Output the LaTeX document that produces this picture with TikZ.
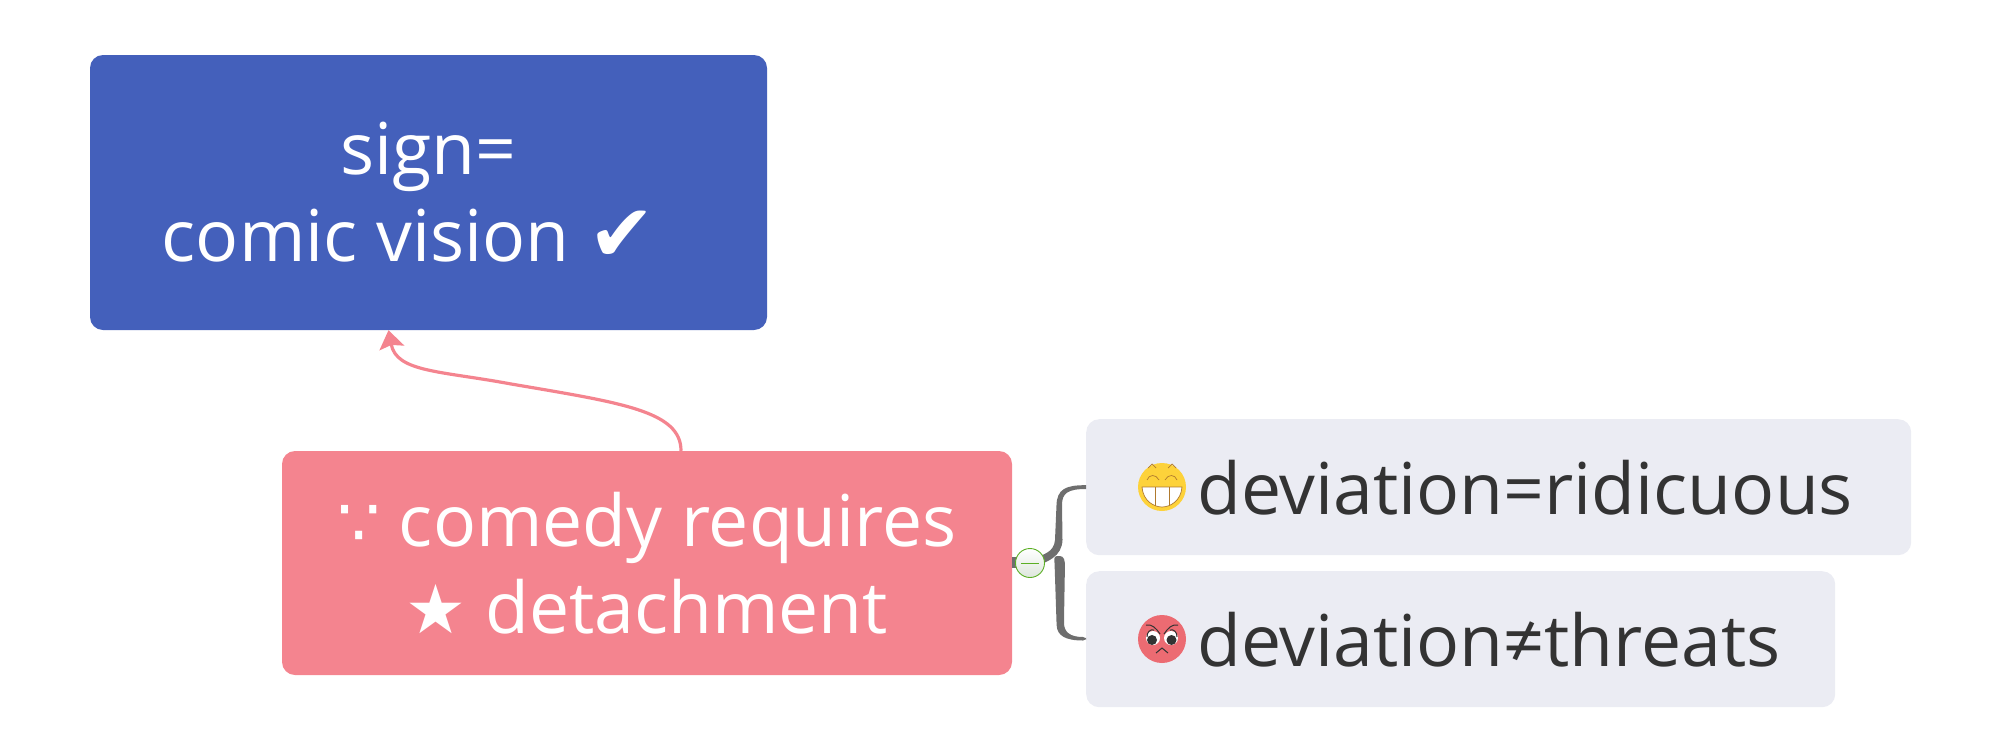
\documentclass[tikz,border=0pt]{standalone}
\usepackage{fontspec}
\setmainfont{Open Sans}
\newfontfamily\symf{DejaVu Sans}
\usetikzlibrary{arrows.meta,calc}
\definecolor{bluebox}{HTML}{4460BB}
\definecolor{pinkbox}{HTML}{F4848F}
\definecolor{greybox}{HTML}{EBECF3}
\definecolor{linkgrey}{HTML}{6E6E6E}
\definecolor{inkdark}{HTML}{333333}
\definecolor{facey}{HTML}{FDD23A}
\definecolor{facer}{HTML}{EC6B72}
\definecolor{toothl}{HTML}{B07A2E}
\definecolor{togg}{HTML}{5BAF24}
\definecolor{toggb}{HTML}{DDE6DC}
\newcommand{\bigsym}[1]{{\fontsize{80}{87}\selectfont\symf #1}}
\newcommand{\midsym}[1]{{\fontsize{68}{87}\selectfont\symf #1}}
\tikzset{
 box/.style={rectangle,rounded corners=13pt,inner sep=0pt,align=center,text=white,font=\fontsize{71.5}{87}\selectfont},
 leaf/.style={rectangle,rounded corners=13pt,inner xsep=0pt,inner ysep=0pt,fill=greybox,text=inkdark,align=left,anchor=north west,font=\fontsize{71.5}{87}\selectfont,minimum height=136pt},
}
\begin{document}
\begin{tikzpicture}[x=1pt,y=-1pt]
\useasboundingbox (0,0) rectangle (1989,747);
\node[box,fill=bluebox,minimum width=677pt,minimum height=275pt] (sign) at (428.5,192.5) {sign=\\comic vision \bigsym{✔}\hspace*{40pt}};
\node[box,fill=pinkbox,minimum width=730pt,minimum height=224pt] (comedy) at (647,563) {\midsym{∵} comedy requires\\\midsym{★} detachment};
\node[leaf,text width=825pt] (ridic) at (1086,419) {\hspace*{111pt}deviation=ridicuous};
\node[leaf,text width=749pt] (threat) at (1086,571) {\hspace*{111pt}deviation≠threats};
% arrow
\coordinate (arrS) at ($(comedy.north)+(34,0)$);
\coordinate (arrE) at ($(sign.south)+(-40,0)$);
\draw[pinkbox,line width=3.2pt,-{Stealth[length=18pt,width=25pt,inset=3pt]}] (arrS) .. controls +(0,-40) and ($(arrS)+(-60,-48)$) .. ($(arrS)+(-171,-67)$) .. controls ($(arrS)+(-241,-80)$) and ($(arrE)+(8,42)$) .. (arrE);
% branches
\coordinate (r1) at (ridic.west);
\coordinate (r2) at (threat.west);
\fill[linkgrey] ($(comedy.east)+(0,-6)$) rectangle ($(comedy.east)+(14,5)$);
\fill[linkgrey] (r1 |- 0,485.2) -- (1086,485.2) .. controls (1066,485) and (1057,489) .. (1056.5,505)
 -- (1055,540) .. controls (1054,552) and (1044,555) .. (1030,559) -- (1030,567)
 .. controls (1048,563) and (1062,556) .. (1062.5,540) -- (1062,505) .. controls (1062,493) and (1068,489) .. (1086,489) -- cycle;
\fill[linkgrey,rounded corners=3pt] (1054,556) -- (1063,556) -- (1065,562) -- (1064,620)
 .. controls (1064,632) and (1070,637) .. (1086,637) -- (1086,640.5)
 .. controls (1066,640.5) and (1057,636) .. (1056.5,622) -- (1054.5,562) -- cycle;
% toggle
\node[circle,draw=togg,line width=.9pt,top color=white,bottom color=toggb,minimum size=29pt,inner sep=0pt] (tog) at (1030,563) {};
\draw[togg,line width=.9pt] ($(tog)+(-9,0)$) -- ($(tog)+(9,0)$);
% smile
\begin{scope}[shift={(1162,487)}]
 \fill[facey] (0,0) circle (24);
 \fill[white] (-20,0) -- (20,0) .. controls (19,14) and (8,20) .. (0,20) .. controls (-8,20) and (-19,14) .. (-20,0) -- cycle;
 \draw[toothl,line width=.7pt] (-20,0) -- (20,0) .. controls (19,14) and (8,20) .. (0,20) .. controls (-8,20) and (-19,14) .. (-20,0) -- cycle;
 \draw[toothl,line width=.7pt] (-7,0) -- (-7,19) (7,0) -- (7,19);
 \draw[toothl,line width=.7pt] (-15,-7) .. controls (-13,-13) and (-6,-13) .. (-3,-7) (15,-7) .. controls (13,-13) and (6,-13) .. (3,-7);
 \draw[toothl,line width=.7pt] (-14,-19) -- (-10,-23) -- (-6,-19) (14,-19) -- (10,-23) -- (6,-19);
\end{scope}
% angry
\begin{scope}[shift={(1162,639)}]
 \fill[facer] (0,0) circle (24);
 \fill[white] (-9,-1) circle (7) (9,-1) circle (7);
 \fill[black!80] (-10,1) circle (5) (9.5,1) circle (5);
 \draw[black!80,line width=1pt] (-16,-14) .. controls (-10,-15) and (-6,-11) .. (-2,-5) (16,-14) .. controls (10,-15) and (6,-11) .. (2,-5);
 \draw[black!80,line width=1pt] (-15,-2) .. controls (-15,-7) and (-12,-10) .. (-8,-9) (15,-2) .. controls (15,-7) and (12,-10) .. (8,-9);
 \draw[black!80,line width=1pt] (-6,14) -- (0,9) -- (6,14);
\end{scope}
\end{tikzpicture}
\end{document}
